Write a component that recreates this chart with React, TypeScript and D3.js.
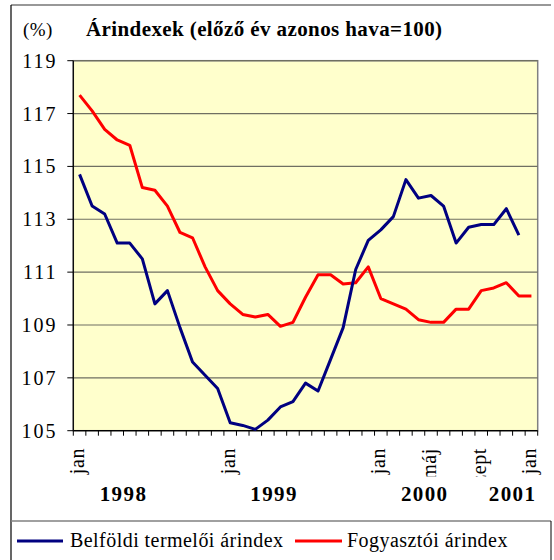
import React from 'react';
import * as d3 from 'd3';

// 37 monthly categories: jan 1998 .. jan 2001
const categories: number[] = d3.range(37);
const monthLabelIndex = [0, 12, 24, 28, 32, 36];
const monthLabelText = ['jan', 'jan', 'jan', 'máj', 'szept', 'jan'];
const yearLabels = ['1998', '1999', '2000', '2001'];
const yearLabelPos = [4, 16, 28, 35];
const yTicks = [105, 107, 109, 111, 113, 115, 117, 119];

const producer = [
  114.7, 113.5, 113.2, 112.1, 112.1, 111.5, 109.8, 110.3, 108.9, 107.6, 107.1, 106.6,
  105.3, 105.2, 105.05, 105.4, 105.9, 106.1, 106.8, 106.5, 107.7, 108.9, 111.1, 112.2,
  112.6, 113.1, 114.5, 113.8, 113.9, 113.5, 112.1, 112.7, 112.8, 112.8, 113.4, 112.4,
];
const consumer = [
  117.7, 117.1, 116.4, 116.0, 115.8, 114.2, 114.1, 113.5, 112.5, 112.3, 111.2, 110.3,
  109.8, 109.4, 109.3, 109.4, 108.95, 109.1, 110.05, 110.9, 110.9, 110.55, 110.6, 111.2,
  110.0, 109.8, 109.6, 109.2, 109.1, 109.1, 109.6, 109.6, 110.3, 110.4, 110.6, 110.1, 110.1,
];
const seriesNames = ['Belföldi termelői árindex', 'Fogyasztói árindex'];
const seriesColors = ['#000080', '#FF0000'];

const FONT = "'Liberation Serif', 'DejaVu Serif', serif";

export default function App() {
  const left = 73.3, right = 537.7, top = 60.7, bottom = 430.7;
  const x = d3.scaleBand<number>().domain(categories).range([left, right]).padding(0);
  const bw = x.bandwidth();
  const cx = (i: number) => (x(i) as number) + bw / 2;
  const y = d3.scaleLinear().domain([105, 119]).range([bottom, top]);
  const line = d3.line<number>().x((_, i) => cx(i)).y((d) => y(d));
  const boundaries = d3.range(38).map((i) => left + i * bw);

  return (
    <svg width={554} height={560} style={{ position: 'absolute', left: 0, top: 0, background: '#fff', fontFamily: FONT }}>
      <defs>
        <clipPath id="lblclip">
          <rect x={0} y={438} width={554} height={38.5} />
        </clipPath>
      </defs>
      {/* outer frame */}
      <line x1={11} y1={5} x2={551} y2={5} stroke="#333" strokeWidth={1.2} />
      <line x1={11} y1={5} x2={11} y2={560} stroke="#000" strokeWidth={1.2} />
      {/* title */}
      <text x={23} y={36} fontSize={19} letterSpacing={0.4}>(%)</text>
      <text x={86} y={36} fontSize={21} fontWeight="bold" letterSpacing={0.4}>Árindexek (előző év azonos hava=100)</text>
      {/* plot area */}
      <rect x={left} y={top} width={right - left} height={bottom - top} fill="#FFFFCC" stroke="#808080" strokeWidth={1.5} />
      {yTicks.map((t) => (
        <g key={t}>
          <line x1={left} x2={right} y1={y(t)} y2={y(t)} stroke="#6f6f62" strokeWidth={1.2} />
          <line x1={left - 6} x2={left} y1={y(t)} y2={y(t)} stroke="#000" strokeWidth={1} />
          <text x={57.5} y={y(t)} dy="0.35em" textAnchor="end" fontSize={20} letterSpacing={2}>{t}</text>
        </g>
      ))}
      <line x1={left} x2={left} y1={top} y2={bottom} stroke="#000" strokeWidth={1.2} />
      <line x1={left} x2={right} y1={bottom} y2={bottom} stroke="#000" strokeWidth={1.2} />
      {boundaries.map((b, i) => (
        <line key={i} x1={b} x2={b} y1={bottom} y2={bottom + 5} stroke="#000" strokeWidth={1} />
      ))}
      {/* series */}
      <path d={line(consumer) || ''} fill="none" stroke={seriesColors[1]} strokeWidth={3} strokeLinejoin="round" />
      <path d={line(producer) || ''} fill="none" stroke={seriesColors[0]} strokeWidth={3} strokeLinejoin="round" />
      {/* month labels */}
      <g clipPath="url(#lblclip)">
        {monthLabelIndex.map((idx, k) => (
          <text key={k} transform={`translate(${cx(idx) + 4.5},${448}) rotate(-90)`} textAnchor="end" fontSize={20} letterSpacing={0.6}>
            {monthLabelText[k]}
          </text>
        ))}
      </g>
      {yearLabels.map((yl, k) => (
        <text key={yl} x={left + yearLabelPos[k] * bw} y={501} textAnchor="middle" fontSize={21} fontWeight="bold" letterSpacing={1.4}>{yl}</text>
      ))}
      {/* legend */}
      <line x1={11} y1={521} x2={551} y2={521} stroke="#808080" strokeWidth={1.5} />
      <line x1={551} y1={521} x2={551} y2={560} stroke="#000" strokeWidth={1} />
      <line x1={17} x2={63} y1={541} y2={541} stroke={seriesColors[0]} strokeWidth={3} />
      <text x={70} y={547} fontSize={20} letterSpacing={0.45}>{seriesNames[0]}</text>
      <line x1={295} x2={342} y1={541} y2={541} stroke={seriesColors[1]} strokeWidth={3} />
      <text x={347} y={547} fontSize={20} letterSpacing={0.45}>{seriesNames[1]}</text>
    </svg>
  );
}
